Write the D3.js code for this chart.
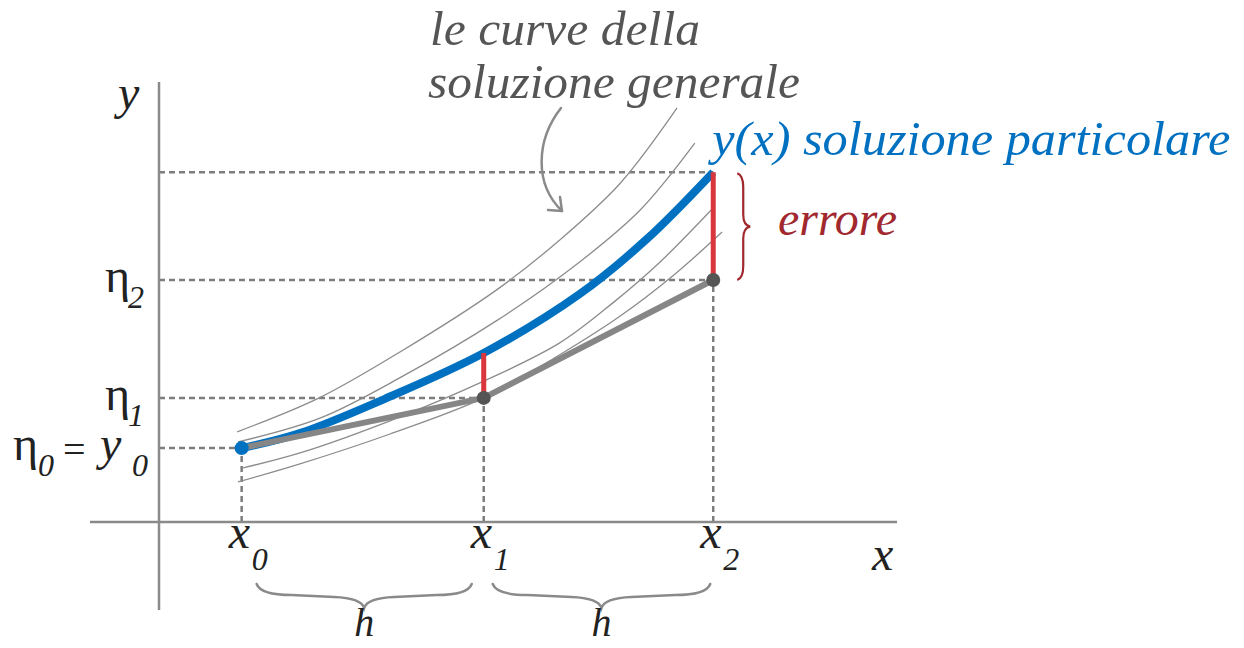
<!DOCTYPE html>
<html><head><meta charset="utf-8">
<script src="https://cdn.jsdelivr.net/npm/d3@7"></script>
<style>html,body{margin:0;padding:0;background:#fff;} svg{display:block;}</style>
</head><body>
<svg id="chart" width="1244" height="648"></svg>
<script>
// ---- data (arbitrary units) ----
const stepX   = [11.2, 44.0, 75.1];   // x0, x1, x2
const eulerY  = [16.8, 28.2, 55.0];   // eta0, eta1, eta2
const exactY  = [16.8, 38.4, 79.5];   // y(x0), y(x1), y(x2)
const stepLabels = ["0", "1", "2"];

const particularX = [11.25, 19.1, 30.6, 44.0, 57.0, 66.1, 75.1];
const particularY = [16.8, 20.2, 28.0, 38.4, 51.8, 64.3, 79.5];

const curveA_X = [10.6, 21.7, 33.1, 45.7, 54.3, 62.5, 70.2];
const curveA_Y = [20.5, 28.2, 39.1, 52.7, 64.1, 77.0, 94.1];
const curveB_X = [10.7, 21.8, 33.1, 45.7, 57.0, 65.2, 72.6];
const curveB_Y = [18.2, 23.6, 33.2, 45.7, 59.1, 70.9, 86.1];
const curveD_X = [11.4, 19.1, 31.3, 44.0, 54.3, 61.5, 67.9, 75.1];
const curveD_Y = [12.3, 15.7, 23.0, 32.0, 40.7, 49.8, 59.1, 71.4];
const curveE_X = [10.7, 19.1, 31.3, 44.0, 54.3, 62.5, 69.6, 76.3];
const curveE_Y = [9.1, 13.2, 20.0, 28.2, 38.0, 46.8, 55.9, 65.9];

const xAxisExtent = [-9.35, 100];
const yAxisExtent = [-20, 100];

// ---- setup ----
const svg = d3.select("#chart");
const x = d3.scaleLinear().domain([0, 100]).range([159, 897]);
const y = d3.scaleLinear().domain([0, 100]).range([522, 82]);

const FONT = "'Liberation Serif', 'Times New Roman', serif";
const GRAY = "#8a8a8a";
const DASH = "#7d7d7d";
const BLUE = "#0070c0";
const RED = "#d9363e";
const DARKRED = "#a1282f";

const zip = (xs, ys) => xs.map((v, i) => [v, ys[i]]);
const line = d3.line().x(d => x(d[0])).y(d => y(d[1])).curve(d3.curveCatmullRom.alpha(0.5));

// ---- dashed guide lines ----
const g = svg.append("g");
const dash = sel => sel.attr("stroke", DASH).attr("stroke-width", 2.5).attr("stroke-dasharray", "6,4");
stepX.forEach((sx, i) => {
  dash(g.append("line").attr("x1", x(0)).attr("x2", x(sx)).attr("y1", y(eulerY[i])).attr("y2", y(eulerY[i])));
  dash(g.append("line").attr("x1", x(sx)).attr("x2", x(sx)).attr("y1", y(0)).attr("y2", y(eulerY[i])));
});
dash(g.append("line").attr("x1", x(0)).attr("x2", x(stepX[2])).attr("y1", y(exactY[2])).attr("y2", y(exactY[2])));

// ---- axes ----
g.append("line").attr("x1", x(xAxisExtent[0])).attr("x2", x(xAxisExtent[1])).attr("y1", y(0)).attr("y2", y(0))
  .attr("stroke", GRAY).attr("stroke-width", 2.5);
g.append("line").attr("x1", x(0)).attr("x2", x(0)).attr("y1", y(yAxisExtent[0])).attr("y2", y(yAxisExtent[1]))
  .attr("stroke", GRAY).attr("stroke-width", 2.5);

// ---- family of solutions ----
[[curveA_X, curveA_Y], [curveB_X, curveB_Y], [curveD_X, curveD_Y], [curveE_X, curveE_Y]].forEach(([xs, ys]) => {
  g.append("path").attr("d", line(zip(xs, ys))).attr("fill", "none")
    .attr("stroke", "#8c8c8c").attr("stroke-width", 1.3);
});

// ---- particular solution ----
g.append("path").attr("d", line(zip(particularX, particularY))).attr("fill", "none")
  .attr("stroke", BLUE).attr("stroke-width", 8);

// ---- Euler polygon ----
g.append("path").attr("d", d3.line().x(d => x(d[0])).y(d => y(d[1]))(zip(stepX, eulerY)))
  .attr("fill", "none").attr("stroke", "#868686").attr("stroke-width", 6).attr("stroke-linejoin", "round");

// ---- error segments ----
[1, 2].forEach(i => {
  g.append("line").attr("x1", x(stepX[i])).attr("x2", x(stepX[i]))
    .attr("y1", y(exactY[i])).attr("y2", y(eulerY[i]))
    .attr("stroke", RED).attr("stroke-width", 5);
});

// ---- points ----
g.append("circle").attr("cx", x(stepX[0])).attr("cy", y(eulerY[0])).attr("r", 7).attr("fill", BLUE);
[1, 2].forEach(i => {
  g.append("circle").attr("cx", x(stepX[i])).attr("cy", y(eulerY[i])).attr("r", 7).attr("fill", "#555");
});

// ---- text helpers ----
function txt(str, px, py, opts = {}) {
  const t = svg.append("text").attr("x", px).attr("y", py).text(str)
    .attr("font-family", FONT).attr("font-size", opts.size || 48)
    .attr("font-style", opts.style || "italic").attr("fill", opts.fill || "#222");
  if (opts.len) t.attr("textLength", opts.len).attr("lengthAdjust", "spacingAndGlyphs");
  if (opts.anchor) t.attr("text-anchor", opts.anchor);
  return t;
}

// axis labels
txt("y", 118, 109);
txt("x", 872, 570);

// x step labels
stepX.forEach((sx, i) => {
  txt("x", x(sx) - 13, 548);
  txt(stepLabels[i], x(sx) + 10, 570, { size: 32 });
});

// eta labels
[1, 2].forEach(i => {
  txt("η", 105, y(eulerY[i]) + 12, { style: "normal" });
  txt(stepLabels[i], 128, y(eulerY[i]) + 28, { size: 32 });
});
txt("η", 13, y(eulerY[0]) + 12, { style: "normal" });
txt("0", 38, y(eulerY[0]) + 28, { size: 32 });
txt("=", 63, y(eulerY[0]) + 15, { style: "normal", size: 40 });
txt("y", 100, y(eulerY[0]) + 12);
txt("0", 132, y(eulerY[0]) + 28, { size: 32 });

// h braces
function underBrace(xa, xb, top) {
  const mid = (xa + xb) / 2, lvl = top + 11, tip = top + 24;
  return `M${xa},${top} Q${xa + 4},${lvl} ${xa + 35},${lvl} L${mid - 30},${lvl + 2} Q${mid - 3},${lvl + 3} ${mid},${tip}` +
         ` Q${mid + 3},${lvl + 3} ${mid + 30},${lvl + 2} L${xb - 35},${lvl} Q${xb - 4},${lvl} ${xb},${top}`;
}
const braceSpans = [[x(stepX[0]) + 15, x(stepX[1]) - 12], [x(stepX[1]) + 9, x(stepX[2]) - 3]];
braceSpans.forEach(([a, b]) => {
  svg.append("path").attr("d", underBrace(a, b, 584)).attr("fill", "none")
    .attr("stroke", GRAY).attr("stroke-width", 2.5).attr("stroke-linecap", "round");
  txt("h", (a + b) / 2, 636, { anchor: "middle", size: 40 });
});

// error brace
(function () {
  const top = y(exactY[2]) + 1, bot = y(eulerY[2]), mid = (top + bot) / 2;
  const xl = x(stepX[2]) + 24, xm = xl + 6, xt = xl + 13;
  const d = `M${xl},${top} Q${xm},${top + 2} ${xm},${top + 14} L${xm},${mid - 12} Q${xm},${mid - 1} ${xt},${mid}` +
            ` Q${xm},${mid + 1} ${xm},${mid + 12} L${xm},${bot - 14} Q${xm},${bot - 2} ${xl},${bot}`;
  svg.append("path").attr("d", d).attr("fill", "none").attr("stroke", DARKRED).attr("stroke-width", 2.2);
  txt("errore", 778, 235, { fill: DARKRED, size: 48, len: 119 });
})();

// annotations
txt("le curve della", 430, 45, { fill: "#555", size: 48, len: 270 });
txt("soluzione generale", 428, 98, { fill: "#555", size: 48, len: 372 });
txt("y(x) soluzione particolare", x(stepX[2]) - 1, 155, { fill: BLUE, size: 48, len: 518 });

// arrow
svg.append("path").attr("d", "M561,108 C536,140 534,184 562,211").attr("fill", "none")
  .attr("stroke", GRAY).attr("stroke-width", 2.5).attr("stroke-linecap", "round");
svg.append("path").attr("d", "M548,210 L562,211 L560,197").attr("fill", "none")
  .attr("stroke", GRAY).attr("stroke-width", 2.5).attr("stroke-linecap", "round").attr("stroke-linejoin", "round");
</script>
</body></html>
